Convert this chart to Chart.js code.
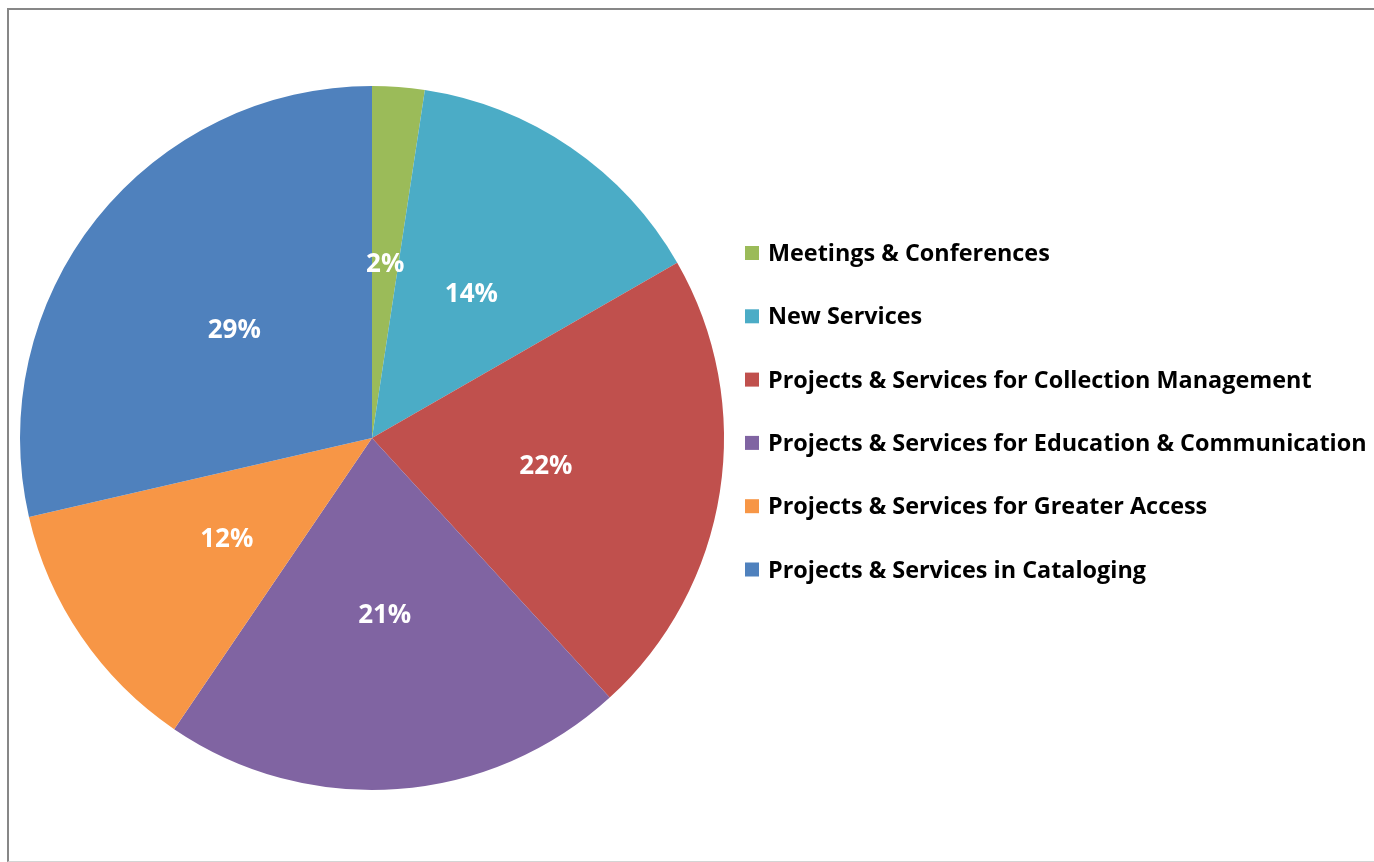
<!DOCTYPE html>
<html>
<head>
<meta charset="utf-8">
<script src="https://cdn.jsdelivr.net/npm/chart.js@4"></script>
<style>
  html, body { margin: 0; padding: 0; background: #ffffff; overflow: hidden; }
  #frame { position: absolute; left: 7px; top: 8px; width: 1400px; height: 851px;
           border-left: 2px solid #878787; border-top: 2px solid #878787; border-bottom: 1px solid #d4d4d4; }
  #wrap { position: absolute; left: 0; top: 0; width: 1374px; height: 862px; }
</style>
</head>
<body>
<div id="frame"></div>
<div id="wrap"><canvas id="c" width="1374" height="862"></canvas></div>
<script>
const categories = [
  "Meetings & Conferences",
  "New Services",
  "Projects & Services for Collection Management",
  "Projects & Services for Education & Communication",
  "Projects & Services for Greater Access",
  "Projects & Services in Cataloging"
];
const shares = [2.4, 14.3, 21.5, 21.3, 11.9, 28.6];
const colors = ["#9BBB59", "#4BACC6", "#C0504D", "#8064A2", "#F79646", "#4F81BD"];

const FONT = "'Open Sans', Lato, sans-serif";

const pctLabels = {
  id: 'pctLabels',
  afterDatasetsDraw(chart) {
    const ctx = chart.ctx;
    const meta = chart.getDatasetMeta(0);
    const data = chart.data.datasets[0].data;
    ctx.save();
    ctx.fillStyle = '#ffffff';
    ctx.font = "bold 26px " + FONT;
    ctx.textAlign = 'center';
    ctx.textBaseline = 'middle';
    meta.data.forEach((arc, i) => {
      const p = arc.tooltipPosition();
      ctx.fillText(Math.round(data[i]) + '%', p.x, p.y + 2);
    });
    ctx.restore();
  }
};

const sideLegend = {
  id: 'sideLegend',
  afterDraw(chart) {
    const ctx = chart.ctx;
    const labels = chart.data.labels;
    const bg = chart.data.datasets[0].backgroundColor;
    ctx.save();
    ctx.font = "bold 23.4px " + FONT;
    ctx.textAlign = 'left';
    ctx.textBaseline = 'alphabetic';
    labels.forEach((lab, i) => {
      const yc = 253 + i * 63.3;
      ctx.fillStyle = bg[i];
      ctx.fillRect(745, yc - 7, 14, 14);
      ctx.fillStyle = '#000000';
      ctx.fillText(lab, 768, yc + 8);
    });
    ctx.restore();
  }
};

new Chart(document.getElementById('c'), {
  type: 'pie',
  data: {
    labels: categories,
    datasets: [{
      data: shares,
      backgroundColor: colors,
      borderWidth: 0
    }]
  },
  options: {
    responsive: false,
    animation: false,
    layout: { padding: { left: 20, right: 650, top: 86, bottom: 72 } },
    plugins: {
      legend: { display: false },
      tooltip: { enabled: false }
    }
  },
  plugins: [pctLabels, sideLegend]
});
</script>
</body>
</html>
